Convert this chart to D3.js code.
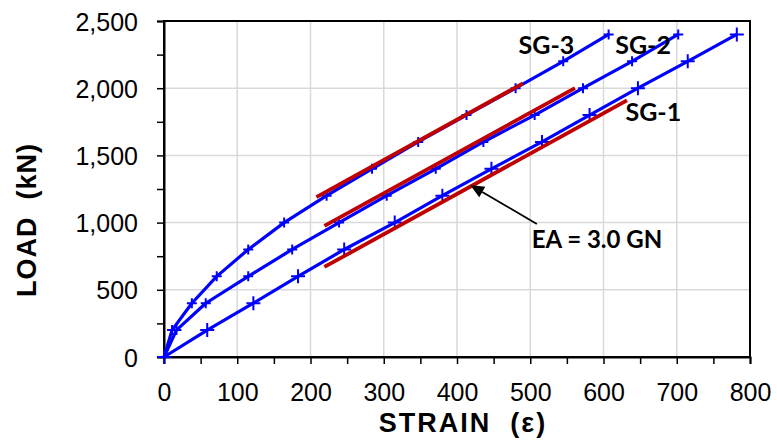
<!DOCTYPE html>
<html>
<head>
<meta charset="utf-8">
<script src="https://cdn.jsdelivr.net/npm/d3@7"></script>
<style>
  html, body { margin: 0; padding: 0; background: #fff; }
  svg { display: block; }
</style>
</head>
<body>
<svg id="chart" width="777" height="444"></svg>
<script>
// ---- data ----
const loads = [0, 200, 400, 600, 800, 1000, 1200, 1400, 1600, 1800, 2000, 2200, 2400];
const sg1 = [0, 59, 122, 183, 246, 315, 380, 447, 516, 581, 647, 715, 782];
const sg2 = [0, 17, 57, 115, 175, 239, 304, 371, 436, 506, 572, 639, 702];
const sg3 = [0, 11, 38, 72, 115, 164, 222, 284, 347, 413, 480, 545, 607];
const seriesNames = ["SG-1", "SG-2", "SG-3"];
// EA = 3.0 GN reference lines (strain, load) start/end
const refStartStrain = [219, 219, 208];
const refStartLoad = [670, 975, 1190];
const refEndStrain = [632, 561, 490];
const refEndLoad = [1910, 2001, 2036];
const xTicks = [0, 100, 200, 300, 400, 500, 600, 700, 800];
const yTicks = [0, 500, 1000, 1500, 2000, 2500];

const svg = d3.select("#chart");
const W = 777, H = 444;
const m = { left: 164, top: 21, right: 27, bottom: 87 };
const x = d3.scaleLinear().domain([0, 800]).range([m.left, W - m.right]);
const y = d3.scaleLinear().domain([0, 2500]).range([H - m.bottom, m.top]);

// grid
const g = svg.append("g");
g.selectAll("line.gx").data(xTicks.slice(1, -1)).join("line")
  .attr("x1", d => x(d)).attr("x2", d => x(d))
  .attr("y1", y(0)).attr("y2", y(2500))
  .attr("stroke", "#d9d9d9").attr("stroke-width", 1.5);
g.selectAll("line.gy").data(yTicks.slice(1, -1)).join("line")
  .attr("y1", d => y(d)).attr("y2", d => y(d))
  .attr("x1", x(0)).attr("x2", x(800))
  .attr("stroke", "#d9d9d9").attr("stroke-width", 1.5);

// border box
svg.append("rect").attr("x", x(0)).attr("y", y(2500))
  .attr("width", x(800) - x(0)).attr("height", y(0) - y(2500))
  .attr("fill", "none").attr("stroke", "#000").attr("stroke-width", 2);

// axes
const tickFont = "'Liberation Sans', Arial, sans-serif";
const xAxis = d3.axisBottom(x).tickValues(d3.range(0, 801, 50))
  .tickSize(7).tickFormat(d => d % 100 === 0 ? d : "");
const yAxis = d3.axisLeft(y).tickValues(d3.range(0, 2501, 250))
  .tickSize(7).tickFormat(d => d % 500 === 0 ? d3.format(",")(d) : "");
const gx = svg.append("g").attr("transform", `translate(0,${y(0)})`).call(xAxis);
const gy = svg.append("g").attr("transform", `translate(${x(0)},0)`).call(yAxis);
[gx, gy].forEach(a => {
  a.select(".domain").attr("stroke", "#000").attr("stroke-width", 2);
  a.selectAll(".tick line").attr("stroke", "#000").attr("stroke-width", 1.5);
  a.selectAll("text").attr("fill", "#000").style("font-family", tickFont).style("font-size", "25px");
});
gx.selectAll("text").attr("dy", "0").attr("y", 44);
gy.selectAll("text").attr("x", -26).attr("dy", "0.36em");

// axis titles
svg.append("text").attr("x", (x(0) + x(800)) / 2 + 6).attr("y", 432)
  .attr("text-anchor", "middle").style("white-space", "pre")
  .style("font-family", tickFont).style("font-weight", "bold").style("font-size", "27px")
  .style("letter-spacing", "2px")
  .text("STRAIN  (\u03B5)");
svg.append("text").attr("transform", `translate(36,${220}) rotate(-90)`)
  .attr("text-anchor", "middle").style("white-space", "pre")
  .style("font-family", tickFont).style("font-weight", "bold").style("font-size", "27px")
  .style("letter-spacing", "1px")
  .text("LOAD  (kN)");

// series lines
const allSeries = [sg1, sg2, sg3];
const line = d3.line().x(d => x(d[0])).y(d => y(d[1]));
allSeries.forEach(s => {
  svg.append("path").datum(s.map((v, i) => [v, loads[i]]))
    .attr("d", line).attr("fill", "none").attr("stroke", "#0000ff")
    .attr("stroke-width", 3.2).attr("stroke-linejoin", "round");
});
// markers
const markerSize = [7, 5, 5];
allSeries.forEach((s, k) => {
  const r = markerSize[k];
  svg.append("g").selectAll("path").data(s.map((v, i) => [v, loads[i]])).join("path")
    .attr("d", d => `M${x(d[0]) - r},${y(d[1])}H${x(d[0]) + r}M${x(d[0])},${y(d[1]) - r}V${y(d[1]) + r}`)
    .attr("stroke", "#0000ff").attr("stroke-width", 2).attr("fill", "none");
});

// reference lines EA = 3.0 GN
refStartStrain.forEach((s, i) => {
  svg.append("line")
    .attr("x1", x(s)).attr("y1", y(refStartLoad[i]))
    .attr("x2", x(refEndStrain[i])).attr("y2", y(refEndLoad[i]))
    .attr("stroke", "#c00000").attr("stroke-width", 3.8);
});

// labels
const labFont = "Lato, 'Open Sans', sans-serif";
const labels = [
  { t: "SG-3", sx: 484, ly: 2255 },
  { t: "SG-2", sx: 616, ly: 2255 },
  { t: "SG-1", sx: 630, ly: 1755 }
];
svg.selectAll("text.lab").data(labels).join("text")
  .attr("x", d => x(d.sx)).attr("y", d => y(d.ly))
  .style("font-family", labFont).style("font-weight", "bold").style("font-size", "25px")
  .attr("fill", "#000").text(d => d.t);

// annotation arrow
const tip = [418, 1280], tail = [509, 990];
const tx = x(tip[0]), ty = y(tip[1]), ex = x(tail[0]), ey = y(tail[1]);
const ang = Math.atan2(ty - ey, tx - ex);
const hl = 14, hw = 6;
const bx = tx - hl * Math.cos(ang), by = ty - hl * Math.sin(ang);
svg.append("line").attr("x1", ex).attr("y1", ey).attr("x2", bx).attr("y2", by)
  .attr("stroke", "#000").attr("stroke-width", 1.8);
svg.append("path")
  .attr("d", `M${tx},${ty}L${bx + hw * Math.sin(ang)},${by - hw * Math.cos(ang)}L${bx - hw * Math.sin(ang)},${by + hw * Math.cos(ang)}Z`)
  .attr("fill", "#000");
svg.append("text").attr("x", x(502)).attr("y", y(814))
  .style("font-family", labFont).style("font-weight", "bold").style("font-size", "24px")
  .style("white-space", "pre")
  .attr("fill", "#000").text("EA = 3.0 GN");
</script>
</body>
</html>
